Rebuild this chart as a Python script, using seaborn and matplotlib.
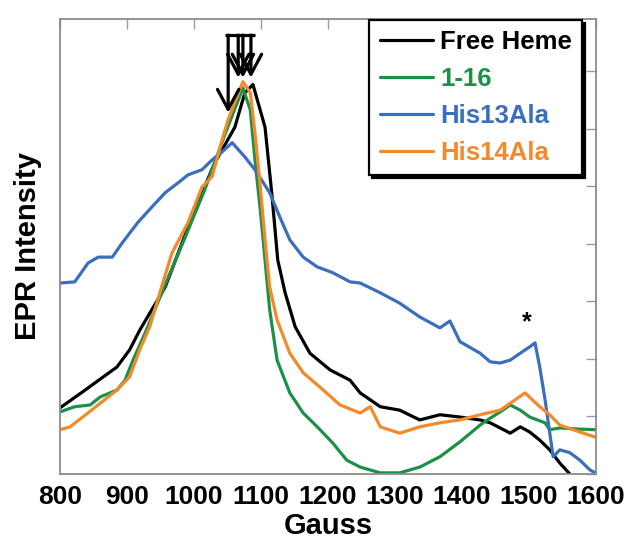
import matplotlib
matplotlib.use("Agg")
import matplotlib.pyplot as plt
import seaborn as sns
import pandas as pd

# EPR spectra (field in gauss, intensity in arbitrary units)
free_heme_x = [800, 834, 885, 904, 919, 957, 1001, 1031, 1061, 1076, 1088, 1106, 1116,
               1125, 1136, 1151, 1173, 1203, 1233, 1248, 1278, 1307, 1337, 1367, 1397,
               1427, 1442, 1472, 1487, 1501, 1516, 1531, 1546, 1561]
free_heme_y = [1.15, 1.43, 1.86, 2.16, 2.50, 3.25, 4.59, 5.41, 6.03, 6.63, 6.77, 6.03, 4.89,
               3.72, 3.15, 2.56, 2.10, 1.81, 1.63, 1.41, 1.17, 1.11, 0.94, 1.03, 0.99,
               0.94, 0.89, 0.71, 0.82, 0.73, 0.59, 0.42, 0.19, 0.0]

p116_x = [800, 822, 845, 860, 885, 897, 909, 927, 957, 987, 1016, 1046, 1073, 1084, 1091,
          1099, 1106, 1113, 1124, 1143, 1163, 1184, 1207, 1228, 1248, 1278, 1307, 1337,
          1367, 1397, 1427, 1442, 1457, 1472, 1487, 1501, 1524, 1531, 1546, 1576, 1599]
p116_y = [1.08, 1.17, 1.20, 1.34, 1.46, 1.63, 1.98, 2.45, 3.29, 4.12, 4.94, 5.90, 6.71, 6.33,
          5.46, 4.59, 3.72, 2.85, 1.98, 1.41, 1.06, 0.82, 0.54, 0.24, 0.12, 0.02, 0.02, 0.12,
          0.30, 0.56, 0.85, 0.97, 1.08, 1.20, 1.11, 0.99, 0.89, 0.77, 0.80, 0.78, 0.77]

h13a_x = [800, 822, 842, 857, 878, 893, 916, 937, 957, 976, 991, 1012, 1027, 1042, 1057,
          1076, 1091, 1113, 1128, 1143, 1163, 1184, 1207, 1233, 1248, 1278, 1307, 1337,
          1367, 1382, 1397, 1427, 1442, 1457, 1472, 1487, 1501, 1509, 1516, 1524, 1531,
          1536, 1546, 1561, 1576, 1591, 1599]
h13a_y = [3.32, 3.34, 3.67, 3.77, 3.77, 4.02, 4.37, 4.64, 4.89, 5.06, 5.20, 5.29, 5.46, 5.60,
          5.76, 5.51, 5.29, 4.89, 4.47, 4.07, 3.77, 3.60, 3.50, 3.34, 3.32, 3.15, 2.97, 2.73,
          2.54, 2.66, 2.30, 2.10, 1.95, 1.93, 1.98, 2.10, 2.21, 2.28, 1.86, 1.29, 0.71,
          0.30, 0.42, 0.37, 0.24, 0.07, 0.02]

h14a_x = [800, 815, 834, 860, 885, 904, 919, 934, 949, 967, 991, 1012, 1027, 1042, 1051,
          1073, 1084, 1091, 1099, 1106, 1113, 1124, 1143, 1163, 1188, 1218, 1248, 1263,
          1278, 1307, 1337, 1367, 1397, 1427, 1457, 1472, 1494, 1516, 1531, 1546, 1576, 1599]
h14a_y = [0.77, 0.82, 0.99, 1.23, 1.46, 1.69, 2.16, 2.56, 3.15, 3.84, 4.37, 4.99, 5.17, 5.81,
          6.16, 6.82, 6.63, 5.93, 4.99, 4.07, 3.25, 2.68, 2.10, 1.76, 1.51, 1.20, 1.06, 1.17,
          0.82, 0.71, 0.82, 0.89, 0.94, 1.03, 1.11, 1.23, 1.41, 1.17, 1.03, 0.85, 0.73, 0.64]

samples = ["Free Heme", "1-16", "His13Ala", "His14Ala"]
colors = ["#000000", "#1c9146", "#3a6fbd", "#f28a2b"]

# peak markers: arrow positions (gauss), common top, arrow tips
arrow_x = [1051, 1066, 1073, 1085]
arrow_tip = [6.28, 6.89, 6.89, 6.89]
arrow_top = 7.63
bar_span = [1046, 1091]

x_ticks = [800, 900, 1000, 1100, 1200, 1300, 1400, 1500, 1600]

frames = []
for name, xs, ys in [("Free Heme", free_heme_x, free_heme_y),
                     ("1-16", p116_x, p116_y),
                     ("His13Ala", h13a_x, h13a_y),
                     ("His14Ala", h14a_x, h14a_y)]:
    frames.append(pd.DataFrame({"Gauss": xs, "EPR": ys, "sample": name}))
df = pd.concat(frames, ignore_index=True)

sns.set_style("white")
plt.rcParams["font.family"] = ["Liberation Sans", "DejaVu Sans"]
plt.rcParams["font.weight"] = "bold"
plt.rcParams["text.color"] = "black"
plt.rcParams["axes.labelcolor"] = "black"
plt.rcParams["xtick.labelcolor"] = "black"

fig = plt.figure(figsize=(6.24, 5.39), dpi=100)
ax = fig.add_axes([60 / 624, 65 / 539, 536 / 624, 455 / 539])

sns.lineplot(data=df, x="Gauss", y="EPR", hue="sample", hue_order=samples,
             palette=dict(zip(samples, colors)), estimator=None, sort=False,
             linewidth=2.3, ax=ax)

ax.set_xlim(800, 1600)
ax.set_ylim(0, 7.91)
ax.set_xticks(x_ticks)
ax.set_xticklabels([str(t) for t in x_ticks], fontsize=19, fontweight="bold")
ax.set_yticks(range(0, 8))
ax.set_yticklabels([])
ax.tick_params(axis="both", which="both", direction="in", length=7, width=1,
               color="#9a9a9a", top=True, right=True, pad=8)
for sp in ax.spines.values():
    sp.set_color("#8c8c8c")
    sp.set_linewidth(1.3)

ax.set_xlabel("Gauss", fontsize=21, fontweight="bold", labelpad=2)
ax.set_ylabel("EPR Intensity", fontsize=21, fontweight="bold", labelpad=5)

# peak arrows joined by a bar at the top
ax.plot(bar_span, [arrow_top, arrow_top], color="black", lw=2.3, solid_capstyle="butt")
for xa, tip in zip(arrow_x, arrow_tip):
    ax.annotate("", xy=(xa, tip), xytext=(xa, arrow_top),
                arrowprops=dict(arrowstyle="->,head_length=0.6,head_width=0.32",
                                color="black", lw=2.3, shrinkA=0, shrinkB=0,
                                mutation_scale=24))

# asterisk over the His13Ala high-field feature
hi = [i for i, xv in enumerate(h13a_x) if xv > 1450]
k = max(hi, key=lambda i: h13a_y[i])
ax.annotate("*", xy=(h13a_x[k], h13a_y[k]), xytext=(-6, 6), textcoords="offset points",
            ha="center", va="bottom", fontsize=18, fontweight="bold", color="black")

handles, labels = ax.get_legend_handles_labels()
leg = ax.legend(handles, labels, loc="upper right", bbox_to_anchor=(0.974, 0.998),
                borderaxespad=0, fontsize=18.5, handlelength=2.1, handletextpad=0.25,
                labelspacing=0.5, borderpad=0.4, fancybox=False, frameon=True,
                shadow={"color": "black", "alpha": 1.0})
leg.get_frame().set_edgecolor("black")
leg.get_frame().set_linewidth(1.6)
for txt, c in zip(leg.get_texts(), colors):
    txt.set_color(c)
    txt.set_fontweight("bold")
for ln in leg.get_lines():
    ln.set_linewidth(2.3)

fig.savefig("out.png", dpi=100)
